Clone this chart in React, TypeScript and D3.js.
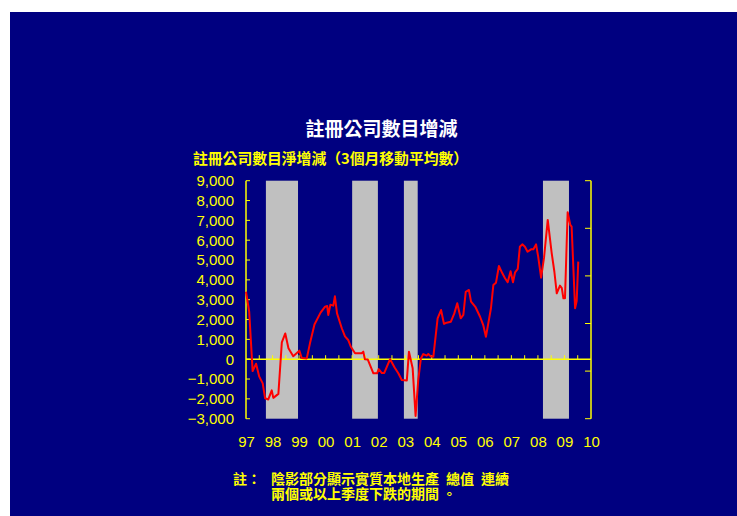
import React from "react";
import * as d3 from "d3";

// decimal years and net change in registered companies (3-month moving average)
const times = [
  1997.0, 1997.12, 1997.25, 1997.38, 1997.5, 1997.63, 1997.72, 1997.84, 1997.97, 1998.03,
  1998.22, 1998.35, 1998.48, 1998.6, 1998.78, 1999.01, 1999.1, 1999.29, 1999.41, 1999.58,
  1999.81, 1999.98, 2000.06, 2000.1, 2000.18, 2000.29, 2000.35, 2000.43, 2000.61, 2000.73,
  2000.85, 2000.95, 2001.11, 2001.36, 2001.42, 2001.48, 2001.59, 2001.8, 2001.94, 2002.0,
  2002.12, 2002.21, 2002.43, 2002.6, 2002.74, 2002.87, 2003.06, 2003.14, 2003.28, 2003.39,
  2003.49, 2003.59, 2003.68, 2003.81, 2003.87, 2003.97, 2004.06, 2004.22, 2004.35, 2004.46,
  2004.56, 2004.72, 2004.85, 2004.96, 2005.09, 2005.19, 2005.28, 2005.4, 2005.48, 2005.65,
  2005.82, 2005.94, 2006.04, 2006.13, 2006.23, 2006.32, 2006.42, 2006.53, 2006.66, 2006.76,
  2006.86, 2006.97, 2007.06, 2007.14, 2007.24, 2007.32, 2007.41, 2007.51, 2007.61, 2007.74,
  2007.83, 2007.93, 2008.01, 2008.12, 2008.23, 2008.37, 2008.52, 2008.62, 2008.71, 2008.83,
  2008.9, 2008.96, 2009.02, 2009.12, 2009.22, 2009.27, 2009.4, 2009.46, 2009.52,
];
const values = [
  3400, 2400, -600, -230, -880, -1220, -1970, -2030, -1570, -1950,
  -1750, 850, 1300, 550, 150, 430, 60, 40, 800, 1750,
  2350, 2650, 2680, 2230, 2750, 2700, 3170, 2310, 1560, 1150,
  970, 630, 300, 300, 380, 0, -20, -710, -710, -500,
  -700, -690, 0, -420, -710, -1050, -1070, 380, -460, -2860,
  -1050, 40, 260, 180, 260, 130, 130, 2060, 2480, 1780,
  1840, 1890, 2310, 2820, 2060, 2230, 3400, 3490, 2900, 2620,
  2140, 1720, 1130, 1810, 2570, 3740, 3860, 4700, 4330, 4080,
  3880, 4430, 3880, 4380, 4550, 5670, 5790, 5670, 5420, 5540,
  5540, 5790, 5170, 4110, 5120, 7020, 5340, 4410, 3320, 3710,
  3580, 3070, 3070, 7410, 6770, 6680, 2570, 2930, 4920,
];

// periods of two or more consecutive quarters of real GDP decline
const recessionStart = [1997.75, 2001.0, 2002.95, 2008.19];
const recessionEnd = [1998.96, 2001.97, 2003.47, 2009.17];

const yTicks = [-3000, -2000, -1000, 0, 1000, 2000, 3000, 4000, 5000, 6000, 7000, 8000, 9000];
const xYears = [1997, 1998, 1999, 2000, 2001, 2002, 2003, 2004, 2005, 2006, 2007, 2008, 2009, 2010];
const xLabels = ["97", "98", "99", "00", "01", "02", "03", "04", "05", "06", "07", "08", "09", "10"];

const title = "註冊公司數目增減";
const subtitle = "註冊公司數目淨增減（3個月移動平均數）";
const noteHead = "註：";
const noteLine1 = "陰影部分顯示實質本地生產\u2002總值\u2002連續";
const noteLine2 = "兩個或以上季度下跌的期間 。";

const NAVY = "#000080";
const YELLOW = "#ffff00";
const CJK = "'Noto Sans CJK TC', 'Noto Sans CJK SC', sans-serif";
const LAT = "'Liberation Sans', Arial, sans-serif";

export default function App() {
  const W = 737, H = 516;
  const left = 246, right = 591, top = 180.7, bottom = 418.7;
  const x = d3.scaleLinear().domain([1997, 2010]).range([left, right]);
  const y = d3.scaleLinear().domain([-3000, 9000]).range([bottom, top]);
  const yRight = d3.scaleLinear().domain([0, 5]).range([bottom, top]);

  const pts = times.map((t, i) => [t, values[i]] as [number, number]);
  const line = d3
    .line<[number, number]>()
    .x((d) => x(d[0]))
    .y((d) => y(d[1]));

  const halfTicks = d3.range(1997.5, 2009.6, 0.5);
  const y0 = y(0);

  return (
    <svg
      width={W}
      height={H}
      style={{ position: "absolute", left: 0, top: 0, display: "block" }}
    >
      <rect x={0} y={0} width={W} height={H} fill="#ffffff" />
      <rect x={10} y={12} width={W - 10} height={H - 12} fill={NAVY} />

      {/* recession shading */}
      {recessionStart.map((s, i) => (
        <rect
          key={"r" + i}
          x={x(s)}
          y={top}
          width={x(recessionEnd[i]) - x(s)}
          height={bottom - top}
          fill="#c0c0c0"
        />
      ))}

      {/* zero line with half-year ticks */}
      <line x1={left} x2={right} y1={y0} y2={y0} stroke={YELLOW} strokeWidth={1.5} />
      {halfTicks.map((t, i) => (
        <line key={"ht" + i} x1={x(t)} x2={x(t)} y1={y0} y2={y0 - 4} stroke={YELLOW} strokeWidth={1} />
      ))}

      {/* left axis */}
      <line x1={left} x2={left} y1={top} y2={bottom} stroke={YELLOW} strokeWidth={1.5} />
      {yTicks.map((v) => (
        <g key={"yt" + v}>
          <line x1={left} x2={left + 4} y1={y(v)} y2={y(v)} stroke={YELLOW} strokeWidth={1} />
          <text
            x={234}
            y={y(v) + 5.3}
            textAnchor="end"
            fill={YELLOW}
            fontFamily={LAT}
            fontSize={15}
          >
            {d3.format(",")(v)}
          </text>
        </g>
      ))}

      {/* right axis */}
      <line x1={right} x2={right} y1={top} y2={bottom} stroke={YELLOW} strokeWidth={1.5} />
      {yRight.ticks(5).map((v) => (
        <line key={"rt" + v} x1={right} x2={right - 6} y1={yRight(v)} y2={yRight(v)} stroke={YELLOW} strokeWidth={1} />
      ))}

      {/* data line */}
      <path d={line(pts) || ""} fill="none" stroke="#ff0000" strokeWidth={2} strokeLinejoin="round" />

      {/* x labels */}
      {xYears.map((yr, i) => (
        <text
          key={"xl" + yr}
          x={x(yr) + 0.5}
          y={446.5}
          textAnchor="middle"
          fill={YELLOW}
          fontFamily={LAT}
          fontSize={15}
        >
          {xLabels[i]}
        </text>
      ))}

      {/* titles */}
      <text x={381.5} y={135.5} textAnchor="middle" fill="#ffffff" fontFamily={CJK} fontWeight="bold" fontSize={19}>
        {title}
      </text>
      <text x={193} y={164} fill={YELLOW} fontFamily={CJK} fontWeight="bold" fontSize={14.8}>
        {subtitle}
      </text>

      {/* notes */}
      <text x={233} y={483.5} fill={YELLOW} fontFamily={CJK} fontWeight="bold" fontSize={14}>
        {noteHead}
      </text>
      <text fill={YELLOW} fontFamily={CJK} fontWeight="bold" fontSize={14}>
        <tspan x={271} y={483.5}>{noteLine1}</tspan>
        <tspan x={271} y={499}>{noteLine2}</tspan>
      </text>
    </svg>
  );
}
